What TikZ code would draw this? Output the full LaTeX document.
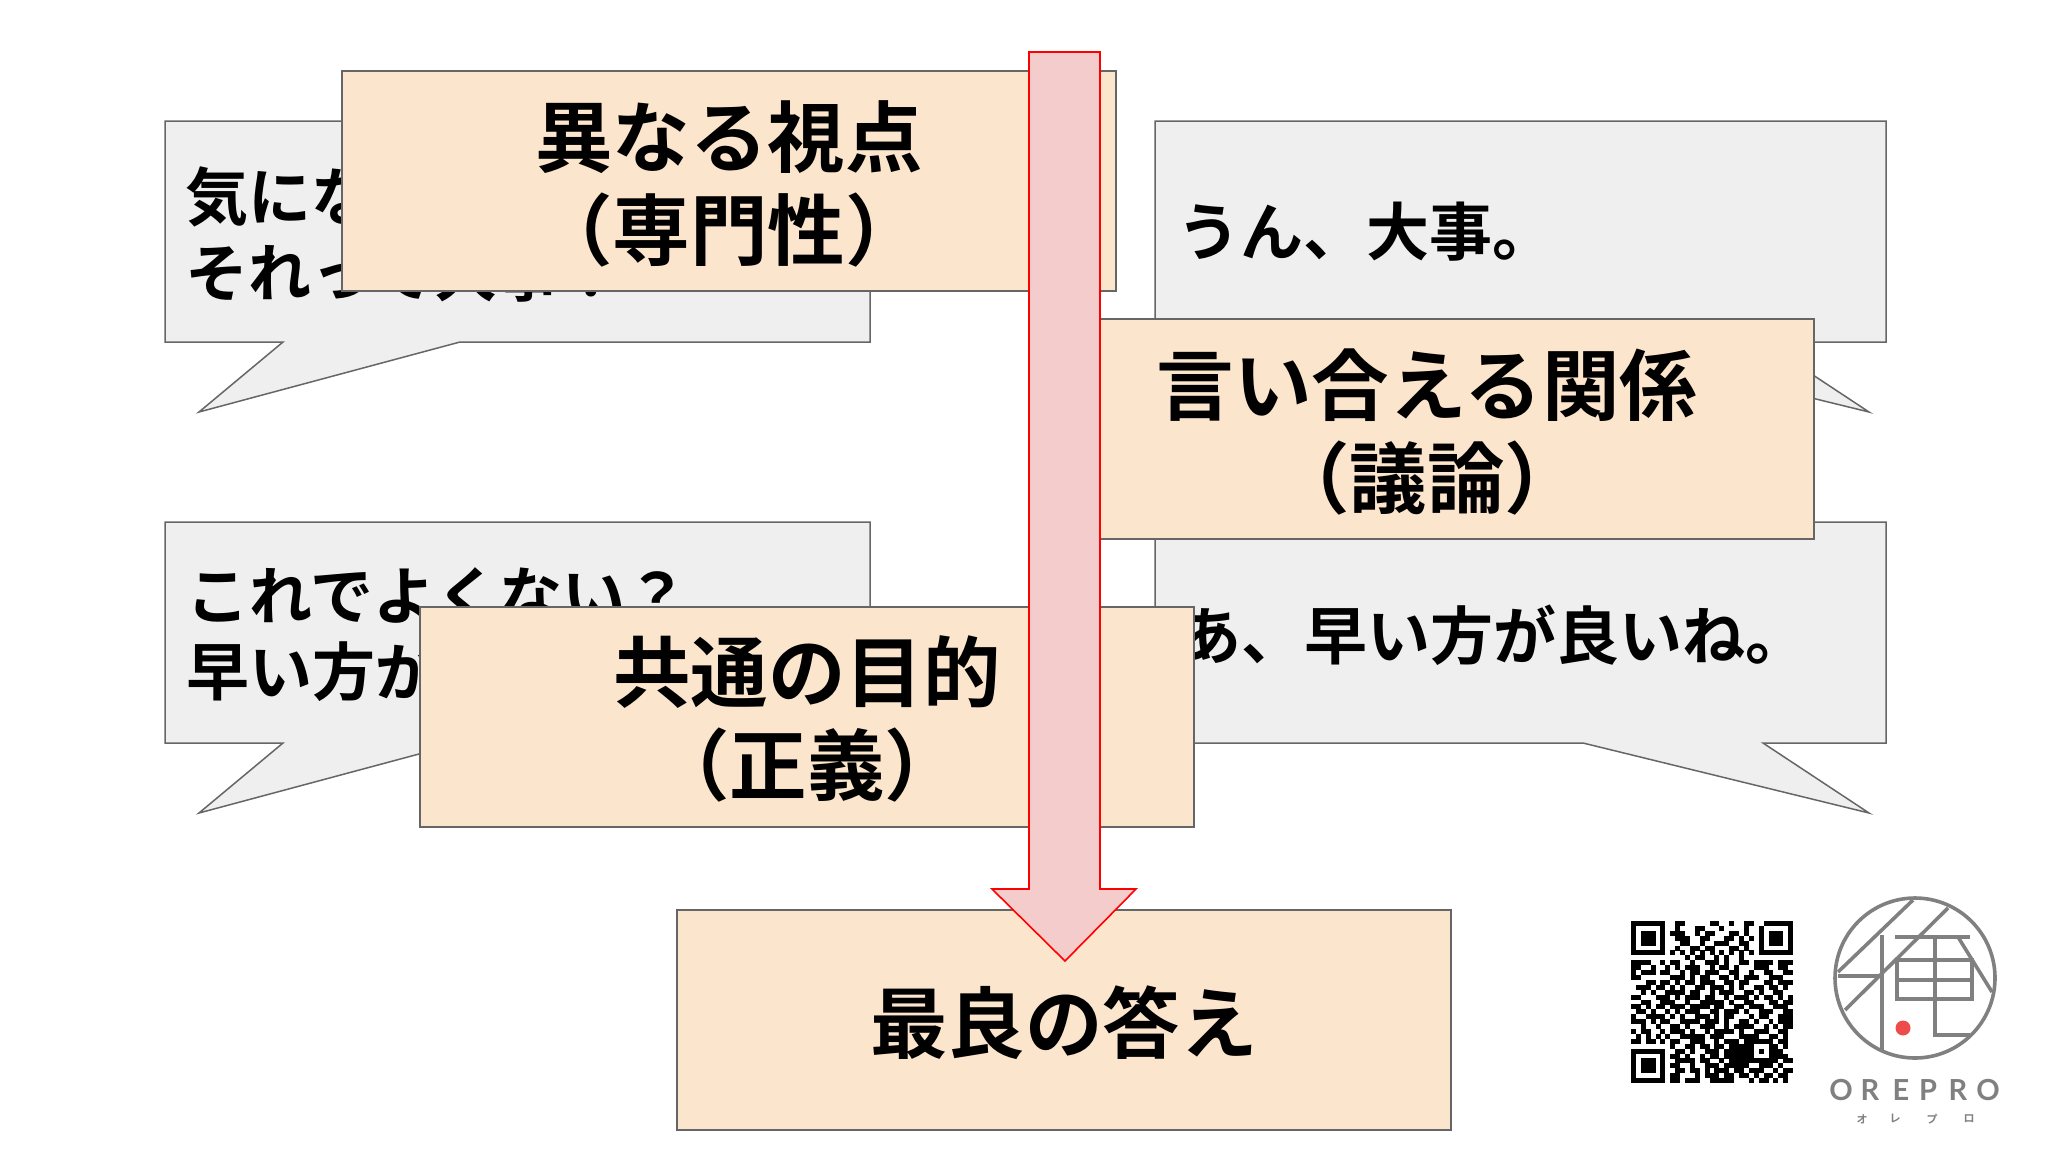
\documentclass[tikz,border=0pt]{standalone}
\usepackage{fontspec}
\setmainfont{Noto Sans CJK JP}[BoldFont=* Bold]
\setsansfont{Lato}
\definecolor{boxfill}{HTML}{FCE5CD}
\definecolor{bubblefill}{HTML}{EFEFEF}
\definecolor{edgegray}{HTML}{666666}
\definecolor{arrowfill}{HTML}{F4CCCC}
\definecolor{logogray}{HTML}{808080}
\definecolor{logored}{HTML}{EE4B4B}
\tikzset{
  factbox/.style={draw=edgegray,fill=boxfill,line width=1.6pt,minimum width=774pt,minimum height=220pt,inner sep=0pt},
  boxtext/.style={inner sep=0pt,align=center,font=\bfseries\fontsize{77.5}{93}\selectfont},
  bubble/.style={draw=edgegray,fill=bubblefill,line width=1.5pt},
  saytext/.style={anchor=west,inner sep=0pt,align=left,font=\bfseries\fontsize{63}{76}\selectfont},
  bigarrow/.style={draw=red,fill=arrowfill,line width=1.6pt},
  logoline/.style={draw=logogray,line width=3.6pt},
}
\makeatletter
\newcount\qrcol
\newcommand\qrline[2]{\qrcol=0
  \@tfor\qrbit:=#2\do{\if\qrbit1\fill (1631+4.91*\the\qrcol,921+4.91*#1) rectangle ++(4.95,4.95);\fi
    \advance\qrcol by 1 }}
\makeatother
% speech bubbles, tail to the left or to the right
\newcommand\bubbleleft[2]{\draw[bubble] (165,#1) -- (870,#1) -- (870,#2) -- (460,#2) -- (199,#2+70) -- (283,#2) -- (165,#2) -- cycle;}
\newcommand\bubbleright[2]{\draw[bubble] (1155,#1) -- (1886,#1) -- (1886,#2) -- (1763,#2) -- (1869,#2+70) -- (1583,#2) -- (1155,#2) -- cycle;}
\begin{document}
\begin{tikzpicture}[x=1pt,y=-1pt]
  \useasboundingbox (0,0) rectangle (2048,1152);
  % bubbles
  \bubbleleft{121}{342}
  \bubbleright{121}{342}
  \bubbleleft{522}{743}
  \bubbleright{522}{743}
  \node[saytext] (sayone) at (185,234) {気にな\\それって大事？};
  \node[saytext] (saytwo) at (1177,232) {うん、大事。};
  \node[saytext] (saythree) at (186,635) {これでよくない？\\早い方が};
  \node[saytext] (sayfour) at (1178,635) {あ、早い方が良いね。};
  % boxes
  \node[factbox] (viewbox) at (729,181) {};
  \node[factbox] (talkbox) at (1427,429) {};
  \node[factbox] (goalbox) at (807,717) {};
  \node[factbox] (bestbox) at (1064,1020) {};
  \node[boxtext] (viewtext) at ([yshift=-3pt]viewbox.center) {異なる視点\\（専門性）};
  \node[boxtext] (talktext) at ([yshift=-3pt]talkbox.center) {言い合える関係\\（議論）};
  \node[boxtext] (goaltext) at ([yshift=-2pt]goalbox.center) {共通の目的\\（正義）};
  \node[boxtext] (besttext) at ([yshift=-3pt]bestbox.center) {最良の答え};
  % big arrow
  \draw[bigarrow] (1029,52) -- (1100,52) -- (1100,889) -- (1136,889) -- (1065,961) -- (992,889) -- (1029,889) -- cycle;
  % qr code
  \foreach \qrdata [count=\qry from 0] in {
    111111100110000011001001100111111,
    100000100100011000100001001000001,
    101110101110010110001101001011101,
    101110100111001100011010101011101,
    101110100011001001110011001011101,
    100000100100110110001101001000001,
    111111101010101010101010101111111,
    000000000001011001010010000000000,
    111100101100100111010011011110111,
    110010010101110010110100011100110,
    101110110010110111001100100110011,
    110000001110101100110101110011100,
    000110110101101110011011000110111,
    011101101010011011101010011011010,
    001010011110110010111001101001100,
    110001110101110110010111010110101,
    001100111001001111101001100011011,
    110101101110111101100110111001110,
    011010010101110011011101001110011,
    100111101010011101011000101100111,
    111010110011110111010011010010111,
    001001001101001110010111100101011,
    101100101110100101111010011100110,
    010101010011111011100011110011010,
    110110101100111001011101111110110,
    000000001001101101101111100011010,
    111111100110100111011111101011100,
    100000101101001011011111100011110,
    101110100111101100101111111111011,
    101110101100100111011111001110100,
    101110100110110101110110111001011,
    100000101100010111011011010110110,
    111111101101110011111000101101010}{
    \expandafter\qrline\expandafter{\expandafter\qry\expandafter}\expandafter{\qrdata}
  }
  % logo
  \draw[logoline] (1915,978) circle (80);
  \draw[logoline] (1838,972) -- (1913,900);
  \draw[logoline] (1845,1010) -- (1948,908);
  \draw[logoline] (1882,935) -- (1882,1052);
  \draw[logoline] (1838,976) -- (1882,976);
  \draw[logoline] (1895,937) -- (1970,937);
  \draw[logoline] (1935,937) -- (1935,1035) -- (1970,1035);
  \draw[logoline] (1897,960) rectangle (1972,999);
  \draw[logoline] (1897,980) -- (1972,980);
  \draw[logoline] (1958,937) -- (1992,992);
  \fill[logored] (1903,1028) circle (7.5);
  \foreach \xpos/\letter [count=\i] in {1841/O,1870/R,1901/E,1928/P,1958/R,1988/O}
    \node[text=logogray,inner sep=0pt,font=\sffamily\bfseries\fontsize{29}{29}\selectfont] (logoname\i) at (\xpos,1090) {\letter};
  \foreach \xpos/\letter [count=\i] in {1862/オ,1895/レ,1932/プ,1969/ロ}
    \node[text=logogray,inner sep=0pt,font=\bfseries\fontsize{11}{11}\selectfont] (logokana\i) at (\xpos,1119) {\letter};
\end{tikzpicture}
\end{document}
